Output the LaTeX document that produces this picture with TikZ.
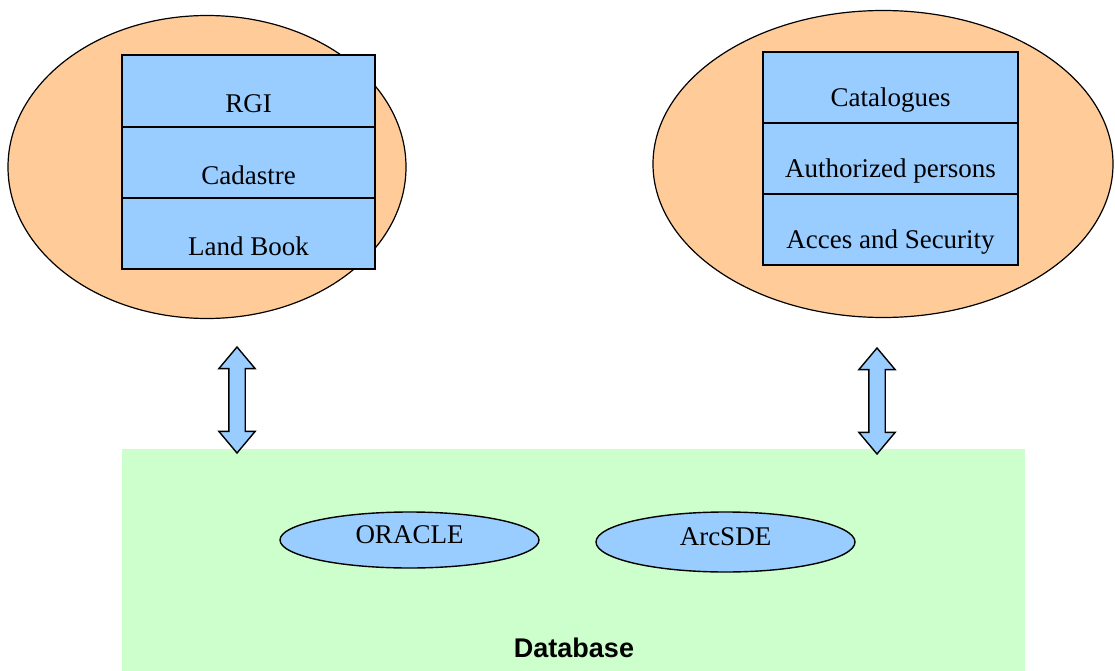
\documentclass[tikz,border=0pt]{standalone}
\usepackage{fontspec}
\setmainfont{Liberation Serif}
\setsansfont{Liberation Sans}
\usetikzlibrary{shapes.geometric,shapes.arrows}
\definecolor{peach}{HTML}{FFCC99}
\definecolor{lblue}{HTML}{99CCFF}
\definecolor{lgreen}{HTML}{CCFFCC}
\tikzset{
  outer/.style={ellipse, draw=black, line width=1.2pt, fill=peach, inner sep=0pt},
  cell/.style={draw=black, line width=1.6pt, fill=lblue},
  lbl/.style={font=\fontsize{27}{30}\selectfont, inner sep=0pt},
  dbell/.style={ellipse, draw=black, line width=1.4pt, fill=lblue, inner sep=0pt},
  dbarrow/.style={double arrow, draw=black, line width=1.4pt, fill=lblue, rotate=90,
    minimum height=106pt, minimum width=35pt, inner xsep=0pt, inner ysep=7.5pt,
    double arrow head extend=10pt, double arrow tip angle=80},
}
\begin{document}
\begin{tikzpicture}[x=1pt,y=-1pt]
\useasboundingbox (0,0) rectangle (1115,671);
% database
\node[fill=lgreen, minimum width=903pt, minimum height=222pt, inner sep=0pt, anchor=north west] (db) at (122,449) {};
\node[font=\sffamily\bfseries\fontsize{27}{30}\selectfont, inner sep=0pt] (dblabel) at (574,648) {Database};
\node[dbell, minimum width=259pt, minimum height=56pt] (oracle) at (409.5,540) {};
\node[lbl] at (409.5,535) {ORACLE};
\node[dbell, minimum width=259pt, minimum height=60pt] (arcsde) at (725.5,542) {};
\node[lbl] at (725.5,537) {ArcSDE};
% left group
\node[outer, minimum width=398pt, minimum height=303pt] (left) at (207,167) {};
\path[cell] (122,55) rectangle (375,127) (122,127) rectangle (375,198) (122,198) rectangle (375,269);
\node[lbl] (rgi) at (248.5,104) {RGI};
\node[lbl] (cad) at (248.5,175) {Cadastre};
\node[lbl] (land) at (248.5,246) {Land Book};
% right group
\node[outer, minimum width=460pt, minimum height=307pt] (right) at (883,164) {};
\path[cell] (763,52) rectangle (1018,123) (763,123) rectangle (1018,194) (763,194) rectangle (1018,265);
\node[lbl] (cat) at (890.5,100) {Catalogues};
\node[lbl] (auth) at (890.5,171) {Authorized persons};
\node[lbl] (acc) at (890.5,242) {Acces and Security};
% arrows
\node[dbarrow] (a1) at (237,400) {};
\node[dbarrow] (a2) at (877,401) {};
\end{tikzpicture}
\end{document}
